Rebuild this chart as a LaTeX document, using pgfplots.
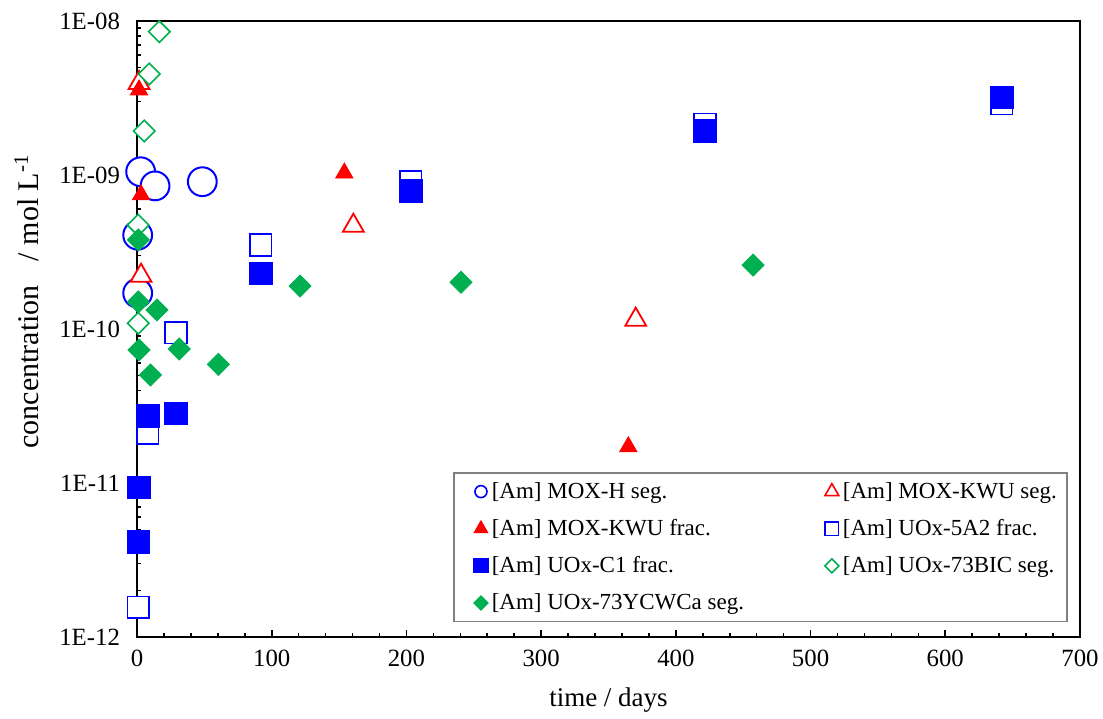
\documentclass[border=0pt]{standalone}
\usepackage{fontspec}
\setmainfont{Liberation Serif}
\usepackage{pgfplots}
\pgfplotsset{compat=1.18}
\definecolor{mblue}{RGB}{0,0,255}
\definecolor{mred}{RGB}{255,0,0}
\definecolor{mgreen}{RGB}{0,176,80}
\begin{document}
\begin{tikzpicture}
\begin{axis}[name=ax, scale only axis, width=471.5pt, height=308pt,
  xmin=0, xmax=700, ymode=log, ymin=1e-12, ymax=1e-8,
  xtick={0,100,...,700}, minor x tick num=4,
  ytick={1e-12,1e-11,1e-10,1e-9,1e-8},
  yticklabels={1E-12,1E-11,1E-10,1E-09,1E-08},
  tick pos=left, tick align=inside,
  major tick length=3.5pt, minor tick length=2.2pt,
  every tick/.style={black, line width=0.8pt},
  axis line style={line width=0.8pt},
  /pgf/number format/assume math mode=true,
  xticklabel style={font=\fontsize{12.4}{14}\selectfont, yshift=-3pt},
  yticklabel style={font=\fontsize{12.4}{14}\selectfont, xshift=-5pt},
  xlabel={time / days},
  ylabel={concentration\hspace{0.8em}/ mol L\textsuperscript{-1}},
  xlabel style={font=\fontsize{13.5}{15}\selectfont, at={(axis description cs:0.5,-0.1023)}, anchor=center},
  ylabel style={font=\fontsize{15}{17}\selectfont, at={(axis description cs:-0.117,0.545)}, anchor=center},
  clip=false,
  legend columns=2, legend cell align=left,
  legend style={at={(rel axis cs:0.987,0.024)}, anchor=south east,
    draw=black!50, line width=0.8pt, font=\fontsize{11.5}{13.5}\selectfont,
    row sep=5pt, inner xsep=2pt, inner ysep=2.5pt,
    nodes={inner xsep=2pt},
    /tikz/every even column/.append style={column sep=30.5pt}},
  legend image code/.code={\path (0pt,0pt) (11pt,0pt); \draw[#1] plot coordinates {(11pt,0pt)};},
]
% [Am] MOX-H seg.
\addplot[forget plot, only marks, mark=*, mark size=7.2pt, mark options={draw=mblue, fill=white, line width=1pt}]
coordinates {(2.7,1.05e-9) (13.4,8.5e-10) (48.5,9.05e-10) (0.5,4.07e-10) (0.5,1.71e-10)};
% [Am] MOX-KWU seg.
\addplot[forget plot, only marks, mark=triangle*, mark size=6pt, mark options={draw=mred, fill=white, line width=0.9pt}]
coordinates {(1.5,3.96e-9) (3,2.22e-10) (160.6,4.69e-10) (370.2,1.15e-10)};
% [Am] MOX-KWU frac.
\addplot[forget plot, only marks, mark=triangle*, mark size=5pt, mark options={draw=mred, fill=mred}]
coordinates {(1.5,3.57e-9) (3,7.44e-10) (153.9,1.03e-9) (364.7,1.72e-11)};
% [Am] UOx-5A2 frac.
\addplot[forget plot, only marks, mark=square*, mark size=5.4pt, mark options={draw=mblue, fill=white, line width=0.8pt}]
coordinates {(1,1.56e-12) (7.9,2.11e-11) (29,9.46e-11) (91.8,3.51e-10) (203.2,9.0e-10) (421.7,2.14e-9) (641.9,2.9e-9)};
% [Am] UOx-C1 frac.
\addplot[forget plot, only marks, mark=square*, mark size=5.7pt, mark options={draw=mblue, fill=mblue}]
coordinates {(1,4.16e-12) (1.5,9.38e-12) (7.9,2.72e-11) (29,2.83e-11) (91.8,2.30e-10) (203.2,7.9e-10) (421.7,1.93e-9) (641.9,3.19e-9)};
% [Am] UOx-73BIC seg.
\addplot[forget plot, only marks, mark=square*, mark size=3.8pt, mark options={rotate=45, draw=mgreen, fill=white, line width=0.8pt}]
coordinates {(16.6,8.52e-9) (9.1,4.53e-9) (5.4,1.93e-9) (0.9,4.73e-10) (1,1.09e-10)};
% [Am] UOx-73YCWCa seg.
\addplot[forget plot, only marks, mark=square*, mark size=3.9pt, mark options={rotate=45, draw=mgreen, fill=mgreen}]
coordinates {(1,3.79e-10) (1,1.50e-10) (14.8,1.33e-10) (1.5,7.31e-11) (10,5.03e-11) (31.4,7.42e-11) (60.4,5.90e-11) (121,1.90e-10) (240.5,2.01e-10) (457.3,2.6e-10)};

\addlegendimage{mark=*, mark size=3pt, mark options={draw=mblue, fill=white, line width=0.8pt}}
\addlegendentry{[Am] MOX-H seg.}
\addlegendimage{mark=triangle*, mark size=4pt, mark options={draw=mred, fill=white, line width=0.8pt}}
\addlegendentry{[Am] MOX-KWU seg.\hspace*{1pt}}
\addlegendimage{mark=triangle*, mark size=3.6pt, mark options={draw=mred, fill=mred}}
\addlegendentry{[Am] MOX-KWU frac.}
\addlegendimage{mark=square*, mark size=3.4pt, mark options={draw=mblue, fill=white, line width=0.8pt}}
\addlegendentry{[Am] UOx-5A2 frac.}
\addlegendimage{mark=square*, mark size=3.4pt, mark options={draw=mblue, fill=mblue}}
\addlegendentry{[Am] UOx-C1 frac.}
\addlegendimage{mark=square*, mark size=2.5pt, mark options={rotate=45, draw=mgreen, fill=white, line width=0.8pt}}
\addlegendentry{[Am] UOx-73BIC seg.\hspace*{1pt}}
\addlegendimage{mark=square*, mark size=2.4pt, mark options={rotate=45, draw=mgreen, fill=mgreen}}
\addlegendentry{[Am] UOx-73YCWCa seg.}
\end{axis}
\pgfresetboundingbox
\path ([shift={(-68.5pt,-40.5pt)}]ax.south west) rectangle ([shift={(11.5pt,10.5pt)}]ax.north east);
\end{tikzpicture}
\end{document}
